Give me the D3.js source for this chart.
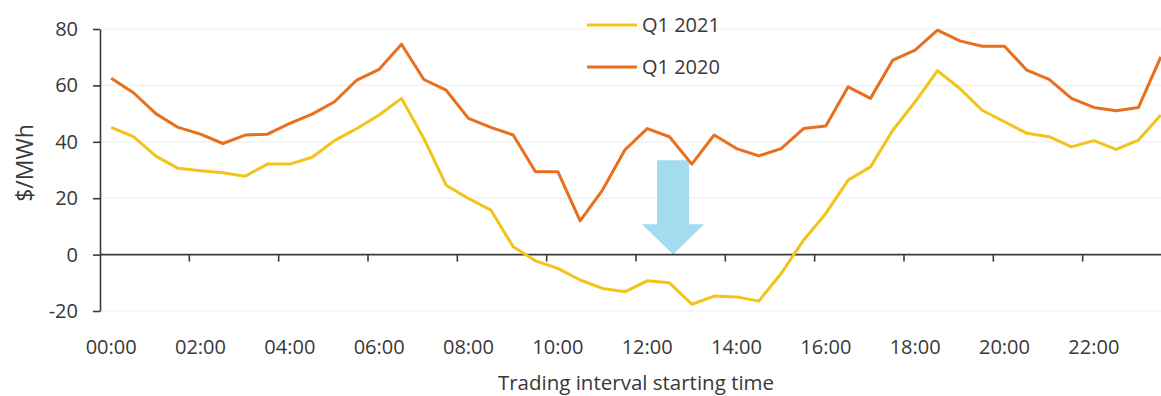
<!DOCTYPE html>
<html>
<head>
<meta charset="utf-8">
<script src="https://cdn.jsdelivr.net/npm/d3@7"></script>
<style>
  html, body { margin: 0; padding: 0; background: #ffffff; }
  svg { display: block; }
  text { font-family: "Open Sans", "Noto Sans", sans-serif; fill: #383838; }
</style>
</head>
<body>
<svg id="chart" width="1161" height="396"></svg>
<script>
// ---- data ----
const categories = [];
for (let h = 0; h < 24; h++) {
  const hh = String(h).padStart(2, "0");
  categories.push(hh + ":00", hh + ":30");
}
const tickLabels = ["00:00","02:00","04:00","06:00","08:00","10:00","12:00","14:00","16:00","18:00","20:00","22:00"];
const yTicks = [-20, 0, 20, 40, 60, 80];
const seriesNames = ["Q1 2021", "Q1 2020"];
const q1_2021 = [45.1, 41.8, 34.9, 30.6, 29.7, 29.0, 27.8, 32.1, 32.1, 34.5, 40.4, 44.7,
                 49.5, 55.4, 41.2, 24.6, 19.9, 15.8, 2.8, -2.2, -4.9, -9.0, -12.0, -13.2,
                 -9.3, -10.0, -17.6, -14.7, -15.0, -16.5, -6.7, 5.1, 14.6, 26.4, 31.1, 44.1,
                 54.2, 65.2, 58.9, 51.2, 47.1, 43.0, 41.8, 38.2, 40.4, 37.3, 40.6, 49.5];
const q1_2020 = [62.5, 57.4, 50.0, 45.1, 42.7, 39.4, 42.4, 42.7, 46.5, 49.8, 54.2, 61.9,
                 65.7, 74.6, 62.1, 58.3, 48.3, 45.1, 42.4, 29.4, 29.4, 12.0, 22.9, 37.1,
                 44.7, 41.8, 32.1, 42.4, 37.6, 35.0, 37.6, 44.7, 45.6, 59.5, 55.4, 69.0,
                 72.5, 79.6, 75.8, 73.9, 73.9, 65.4, 62.1, 55.4, 52.2, 51.0, 52.2, 70.1];
// annotation arrow (in category-position / value units)
const arrowPos = 25.66, arrowTop = 33.5, arrowHeadTop = 10.8, arrowTip = 0;

// ---- layout ----
const colors = { "Q1 2021": "#f2c318", "Q1 2020": "#e8701c" };
const svg = d3.select("#chart");
const left = 100, bandW = 22.333;
const x = d3.scaleBand().domain(categories).range([left, left + categories.length * bandW]).padding(0);
const xl = d3.scaleLinear().domain([0, categories.length]).range([left, left + categories.length * bandW]);
const y = d3.scaleLinear().domain([-20, 80]).range([311, 29]);
const cx = c => x(c) + x.bandwidth() / 2;

// gridlines
svg.append("g").selectAll("line").data(yTicks.filter(v => v !== 0)).join("line")
  .attr("x1", left).attr("x2", 1161)
  .attr("y1", d => y(d)).attr("y2", d => y(d))
  .attr("stroke", "#efefef").attr("stroke-width", 1.2);

// arrow annotation
const ax = xl(arrowPos);
const sw = 16, hw = 31;
const arrowPath = d3.path();
arrowPath.moveTo(ax - sw, y(arrowTop));
arrowPath.lineTo(ax + sw, y(arrowTop));
arrowPath.lineTo(ax + sw, y(arrowHeadTop));
arrowPath.lineTo(ax + hw, y(arrowHeadTop));
arrowPath.lineTo(ax, y(arrowTip));
arrowPath.lineTo(ax - hw, y(arrowHeadTop));
arrowPath.lineTo(ax - sw, y(arrowHeadTop));
arrowPath.closePath();
svg.append("path").attr("d", arrowPath.toString()).attr("fill", "#a3dbef");

// zero line with ticks
svg.append("line").attr("x1", left).attr("x2", 1172).attr("y1", y(0)).attr("y2", y(0))
  .attr("stroke", "#3a3a3a").attr("stroke-width", 1.6);
svg.append("g").selectAll("line").data(tickLabels.slice(1)).join("line")
  .attr("x1", d => x(d)).attr("x2", d => x(d))
  .attr("y1", y(0)).attr("y2", y(0) + 7)
  .attr("stroke", "#3a3a3a").attr("stroke-width", 1.6);

// x labels
const xLab = svg.append("g").attr("transform", `translate(0,${y(-20)})`)
  .call(d3.axisBottom(x).tickValues(tickLabels).tickSize(0).tickPadding(29));
xLab.select(".domain").remove();
xLab.selectAll("text").style("font-size", "20px").style("font-family", "'Open Sans', sans-serif").attr("fill", "#383838");

// y axis
const yAx = svg.append("g").attr("transform", `translate(${left},0)`)
  .call(d3.axisLeft(y).tickValues(yTicks).tickFormat(d => String(d)).tickSize(7).tickSizeOuter(0).tickPadding(15));
yAx.select(".domain").attr("stroke", "#3a3a3a").attr("stroke-width", 1.6);
yAx.selectAll(".tick line").attr("stroke", "#3a3a3a").attr("stroke-width", 1.6);
yAx.selectAll("text").style("font-size", "20px").style("font-family", "'Open Sans', sans-serif").attr("fill", "#383838");

// lines
const line = d3.line().x((d, i) => cx(categories[i])).y(d => y(d));
[["Q1 2020", q1_2020], ["Q1 2021", q1_2021]].forEach(([name, vals]) => {
  svg.append("path").datum(vals).attr("d", line)
    .attr("fill", "none").attr("stroke", colors[name]).attr("stroke-width", 3)
    .attr("stroke-linejoin", "round");
});

// legend
const legend = svg.append("g");
seriesNames.forEach((name, i) => {
  const ly = 25 + i * 42;
  legend.append("line").attr("x1", 587).attr("x2", 637).attr("y1", ly).attr("y2", ly)
    .attr("stroke", colors[name]).attr("stroke-width", 3);
  legend.append("text").attr("x", 642).attr("y", ly + 7).style("font-size", "20px").text(name);
});

// axis titles
svg.append("text").attr("x", 636).attr("y", 390).attr("text-anchor", "middle")
  .style("font-size", "20.5px").text("Trading interval starting time");
svg.append("text").attr("transform", "translate(33,163) rotate(-90)").attr("text-anchor", "middle")
  .style("font-size", "23px").text("$/MWh");
</script>
</body>
</html>
